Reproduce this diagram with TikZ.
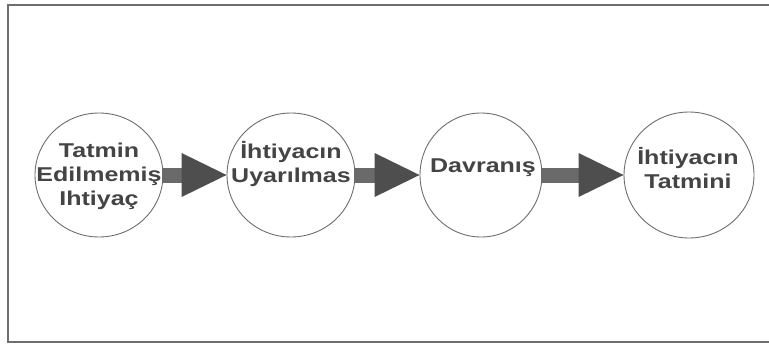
\documentclass[tikz,border=0pt]{standalone}
\usepackage{fontspec}
\setmainfont{Liberation Sans}[FakeStretch=1.25]
\usetikzlibrary{shapes.geometric,calc}
\definecolor{inkc}{HTML}{444444}
\definecolor{linec}{HTML}{6E6E6E}
\definecolor{headc}{HTML}{4E4E4E}
\definecolor{shaftc}{HTML}{6A6A6A}
\tikzset{
  bubble/.style={draw=linec, line width=0.9pt, ellipse, inner sep=0pt},
  lbl/.style={font=\fontsize{20}{24}\selectfont\bfseries, text=inkc, align=center, inner sep=0pt},
}
\newcommand{\fatarrow}[2]{%
  \fill[shaftc] ($(#1.east)+(-1,7.5)$) rectangle ($(#2.west)+(-45,-7.5)$);
  \fill[headc] ($(#2.west)+(-45,22)$) -- (#2.west) -- ($(#2.west)+(-45,-22)$) -- cycle;
}
\begin{document}
\begin{tikzpicture}[x=1pt,y=-1pt]
\useasboundingbox (0,0) rectangle (769,351);
\fill[white] (0,0) rectangle (769,351);
\draw[linec, line width=1.4pt] (8,5) rectangle (775,342);
\node[bubble, minimum width=128pt, minimum height=124pt] (e1) at (99,175) {};
\node[bubble, minimum width=128pt, minimum height=124pt] (e2) at (291,175) {};
\node[bubble, minimum width=122pt, minimum height=124pt] (e3) at (481,175) {};
\node[bubble, minimum width=130pt, minimum height=126pt] (e4) at (689,175) {};
\fatarrow{e1}{e2}
\fatarrow{e2}{e3}
\fatarrow{e3}{e4}
\node[lbl] (t1) at (99,176) {Tatmin\\Edilmemiş\\Ihtiyaç};
\node[lbl] (t2) at (291,164) {İhtiyacın\\Uyarılmas};
\node[lbl] (t3) at (483,168) {Davranış};
\node[lbl] (t4) at (688,168) {İhtiyacın\\Tatmini};
\end{tikzpicture}
\end{document}
